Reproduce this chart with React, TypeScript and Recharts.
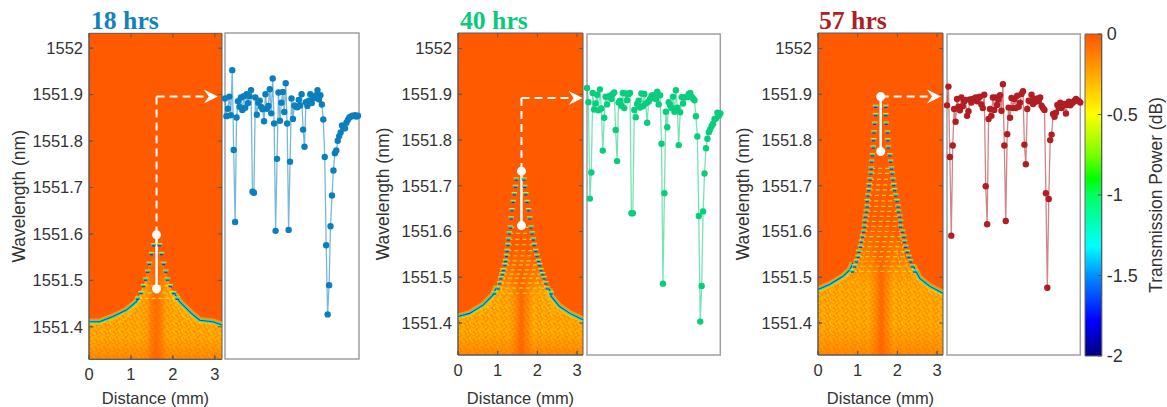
import React from "react";
import { ComposedChart, LineChart, Line, Area, Scatter, XAxis, YAxis, ReferenceArea, ReferenceLine, ReferenceDot } from "recharts";

const FONT = "'Liberation Sans', Arial, sans-serif";
const TEXT = "#333333";
const PAGE_H = 407;
const yTicks = [1551.4, 1551.5, 1551.6, 1551.7, 1551.8, 1551.9, 1552];
const xTicks = [0, 1, 2, 3];
const barTicks = [0, -0.5, -1, -1.5, -2];

// Dip spectra (wavelength in nm, one value per sample)
const spectrum18 = [1551.891,1551.853,1551.869,1551.895,1551.855,1551.952,1551.78,1551.625,1551.85,1551.885,1551.873,1551.893,1551.866,1551.896,1551.871,1551.9,1551.881,1551.896,1551.909,1551.69,1551.688,1551.893,1551.856,1551.882,1551.886,1551.873,1551.868,1551.842,1551.9,1551.869,1551.875,1551.911,1551.859,1551.934,1551.837,1551.606,1551.761,1551.904,1551.843,1551.882,1551.905,1551.862,1551.924,1551.837,1551.608,1551.755,1551.891,1551.847,1551.876,1551.873,1551.872,1551.888,1551.876,1551.9,1551.824,1551.787,1551.883,1551.875,1551.886,1551.9,1551.881,1551.891,1551.893,1551.898,1551.909,1551.889,1551.898,1551.878,1551.846,1551.765,1551.575,1551.426,1551.489,1551.616,1551.682,1551.736,1551.773,1551.779,1551.8,1551.81,1551.818,1551.833,1551.827,1551.827,1551.839,1551.845,1551.85,1551.852,1551.854,1551.853,1551.855,1551.852,1551.854];
const spectrum40 = [1551.916,1551.885,1551.674,1551.731,1551.905,1551.869,1551.882,1551.901,1551.867,1551.913,1551.871,1551.779,1551.851,1551.897,1551.88,1551.897,1551.899,1551.892,1551.903,1551.906,1551.824,1551.756,1551.884,1551.888,1551.877,1551.905,1551.872,1551.904,1551.889,1551.903,1551.905,1551.642,1551.642,1551.868,1551.852,1551.881,1551.888,1551.873,1551.904,1551.876,1551.903,1551.882,1551.84,1551.886,1551.892,1551.899,1551.9,1551.895,1551.892,1551.908,1551.88,1551.9,1551.794,1551.488,1551.686,1551.864,1551.83,1551.885,1551.879,1551.872,1551.897,1551.864,1551.911,1551.873,1551.791,1551.863,1551.896,1551.882,1551.895,1551.896,1551.896,1551.903,1551.905,1551.897,1551.893,1551.889,1551.854,1551.81,1551.636,1551.405,1551.483,1551.646,1551.729,1551.784,1551.805,1551.819,1551.826,1551.833,1551.838,1551.848,1551.849,1551.862,1551.855,1551.86];
const spectrum57 = [1551.878,1551.919,1551.765,1551.593,1551.79,1551.87,1551.842,1551.892,1551.875,1551.867,1551.895,1551.876,1551.887,1551.89,1551.855,1551.865,1551.891,1551.884,1551.892,1551.89,1551.895,1551.887,1551.895,1551.897,1551.88,1551.872,1551.901,1551.701,1551.618,1551.848,1551.87,1551.855,1551.895,1551.868,1551.895,1551.879,1551.891,1551.9,1551.866,1551.924,1551.79,1551.625,1551.815,1551.873,1551.851,1551.894,1551.872,1551.892,1551.872,1551.899,1551.875,1551.884,1551.903,1551.909,1551.792,1551.749,1551.87,1551.888,1551.887,1551.901,1551.881,1551.892,1551.886,1551.893,1551.888,1551.895,1551.877,1551.872,1551.868,1551.686,1551.479,1551.673,1551.802,1551.814,1551.859,1551.853,1551.862,1551.879,1551.872,1551.884,1551.872,1551.878,1551.881,1551.86,1551.879,1551.886,1551.878,1551.882,1551.885,1551.888,1551.892,1551.889,1551.887,1551.884];

// Textured band below the heat-map resonance
const bandD18 = [0,0.25,0.57,0.89,1.13,1.29,1.41,1.59,1.8,1.96,2.16,2.44,2.64,2.95,3.17];
const bandW18 = [1551.411,1551.411,1551.422,1551.436,1551.454,1551.487,1551.525,1551.56,1551.525,1551.482,1551.454,1551.429,1551.414,1551.411,1551.404];
const bandD40 = [0,0.29,0.63,0.88,1.05,1.18,1.58,1.93,2.06,2.18,2.35,2.56,2.82,3.15];
const bandW40 = [1551.414,1551.421,1551.439,1551.461,1551.498,1551.53,1551.56,1551.53,1551.515,1551.494,1551.458,1551.436,1551.421,1551.407];
const bandD57 = [0,0.29,0.63,0.88,1.05,1.18,1.58,1.93,2.06,2.23,2.56,2.82,3.15];
const bandW57 = [1551.473,1551.484,1551.502,1551.531,1551.565,1551.59,1551.62,1551.59,1551.57,1551.54,1551.498,1551.48,1551.465];

// Continuous resonance flanks
const flankLD18 = [0,0.25,0.57,0.89,1.13,1.2];
const flankLW18 = [1551.411,1551.411,1551.422,1551.436,1551.454,1551.465];
const flankRD18 = [2.05,2.16,2.44,2.64,2.95,3.17];
const flankRW18 = [1551.47,1551.454,1551.429,1551.414,1551.411,1551.404];
const flankLD40 = [0,0.29,0.63,0.88,0.98];
const flankLW40 = [1551.414,1551.421,1551.439,1551.461,1551.48];
const flankRD40 = [2.3,2.35,2.56,2.82,3.15];
const flankRW40 = [1551.475,1551.458,1551.436,1551.421,1551.407];
const flankLD57 = [0,0.29,0.63,0.8,0.88];
const flankLW57 = [1551.473,1551.484,1551.502,1551.516,1551.531];
const flankRD57 = [2.4,2.56,2.82,3.15];
const flankRW57 = [1551.525,1551.498,1551.48,1551.465];

// Fringe arcs inside the resonance
const arcsD18 = [[0.7,1.0,1.2,1.3],[2.45,2.2,2.0,1.9]];
const arcsW18 = [[1551.41,1551.43,1551.46,1551.49],[1551.41,1551.43,1551.46,1551.49]];
const arcsD40 = [[0.55,0.8,0.95,1.08],[0.8,1.02,1.18],[2.6,2.36,2.21,2.08],[2.36,2.14,1.98]];
const arcsW40 = [[1551.42,1551.44,1551.47,1551.52],[1551.425,1551.45,1551.5],[1551.42,1551.44,1551.47,1551.52],[1551.425,1551.45,1551.5]];
const arcsD57 = [[0.62,0.85,1.0,1.1],[0.85,1.05,1.18],[2.54,2.31,2.16,2.06],[2.31,2.11,1.98]];
const arcsW57 = [[1551.495,1551.515,1551.55,1551.6],[1551.487,1551.515,1551.56],[1551.495,1551.515,1551.55,1551.6],[1551.487,1551.515,1551.56]];

// Fringe rows: wavelength and left/right ends
const rungW18 = [1551.576,1551.557,1551.536,1551.519,1551.502,1551.488,1551.473,1551.461];
const rungL18 = [1.54,1.49,1.44,1.4,1.35,1.3,1.24,1.16];
const rungR18 = [1.68,1.73,1.78,1.83,1.87,1.94,2.02,2.1];
const rungW40 = [1551.714,1551.698,1551.682,1551.665,1551.647,1551.629,1551.609,1551.596,1551.583,1551.571,1551.558,1551.547,1551.536,1551.527,1551.516,1551.507,1551.498,1551.487,1551.476,1551.465];
const rungL40 = [1.47,1.45,1.42,1.39,1.36,1.34,1.32,1.29,1.27,1.26,1.24,1.22,1.2,1.18,1.15,1.12,1.08,1.05,1.01,0.92];
const rungR40 = [1.66,1.68,1.71,1.74,1.78,1.81,1.84,1.87,1.9,1.92,1.96,1.99,2.03,2.06,2.09,2.13,2.17,2.21,2.25,2.35];
const rungW57 = [1551.873,1551.855,1551.836,1551.817,1551.8,1551.784,1551.767,1551.753,1551.738,1551.727,1551.714,1551.702,1551.691,1551.679,1551.667,1551.655,1551.644,1551.633,1551.622,1551.611,1551.6,1551.589,1551.578,1551.567,1551.556,1551.545,1551.535,1551.524,1551.513];
const rungL57 = [1.45,1.45,1.43,1.41,1.4,1.39,1.37,1.35,1.34,1.33,1.31,1.29,1.28,1.26,1.24,1.24,1.22,1.2,1.18,1.17,1.15,1.12,1.09,1.07,1.03,1.01,0.97,0.92,0.87];
const rungR57 = [1.71,1.71,1.72,1.75,1.76,1.77,1.81,1.83,1.85,1.87,1.89,1.91,1.93,1.96,1.99,2.02,2.03,2.06,2.08,2.08,2.13,2.16,2.18,2.21,2.25,2.29,2.33,2.38,2.44];

// Colour bar stops (dB, colour)
const barStopValues = [0,-0.24,-0.5,-0.74,-0.9,-1,-1.32,-1.5,-1.78,-2];
const barStopColors = ["#ff5500","#ffa500","#ffff00","#80ff00","#00ff00","#00ff60","#00ffff","#0090ff","#0000ff","#00007f"];
const barRange = [-2, 0];

const zip = (ds: number[], ws: number[]) => ds.map((d, i) => ({ d, w: ws[i] }));

function Speckle({ id }: { id: string }) {
  const cells = [
    [0,0,"#ffb000"],[2,1,"#ffbc00"],[4,0,"#ff9000"],[6,2,"#ffc000"],[1,3,"#ff8c00"],[3,3,"#ffb400"],
    [5,4,"#ff9000"],[0,5,"#ffb400"],[2,5,"#ff8e00"],[4,6,"#ffb800"],[6,6,"#ff9200"],[7,0,"#ffac00"],[3,1,"#ff9400"],[7,4,"#ffb400"],
  ] as [number, number, string][];
  return (
    <pattern id={id} width={9} height={8} patternUnits="userSpaceOnUse">
      <rect width={9} height={8} fill="#ffa000" />
      {cells.map(([x, y, c], i) => <rect key={i} x={x} y={y} width={2} height={1.6} fill={c} />)}
    </pattern>
  );
}

const EdgeMark = (props: any) => {
  const { cx, cy } = props;
  if (cx == null || cy == null) return null;
  return (
    <g>
      <rect x={cx - 2.8} y={cy - 2} width={5.6} height={1.3} fill="#f0e020" opacity={0.9} />
      <rect x={cx - 2.4} y={cy - 1} width={4.8} height={1.7} fill="#18d8a0" />
      <rect x={cx - 1.6} y={cy + 0.2} width={3.2} height={1.2} fill="#1040d0" />
    </g>
  );
};

const ArrowHead = (props: any) => {
  const { cx, cy } = props;
  if (cx == null || cy == null) return null;
  return <polygon points={`${cx},${cy} ${cx - 14},${cy - 7} ${cx - 9},${cy} ${cx - 14},${cy + 7}`} fill="#ffffff" />;
};

type HeatProps = {
  id: string; plotLeft: number; plotRight: number; plotTop: number; plotBottom: number;
  xMax: number; yMin: number; yMax: number;
  band: { d: number; w: number }[]; flankL: { d: number; w: number }[]; flankR: { d: number; w: number }[];
  arcsD: number[][]; arcsW: number[][];
  rungW: number[]; rungL: number[]; rungR: number[]; dashFrom: number; fade: number;
  markD: number; markHi: number; markLo: number; arrowW: number; arrowD: number; labelOffset: number;
};

function HeatPanel(p: HeatProps) {
  const axisW = 85;
  const w = p.plotRight + 8 - (p.plotLeft - axisW);
  const edges = p.rungW.flatMap((rw, i) => [{ d: p.rungL[i], w: rw }, { d: p.rungR[i], w: rw }]);
  const axisStroke = "#5a5a5a";
  const tickProps = { fontFamily: FONT, fontSize: 16.5, fill: TEXT };
  const tl = 0.1, tw = 0.009;
  const centerTop = Math.max(...p.band.map((b) => b.w));
  return (
    <div style={{ position: "absolute", left: p.plotLeft - axisW, top: 0 }}>
      <ComposedChart width={w} height={PAGE_H} data={p.band} margin={{ top: p.plotTop, right: 8, bottom: 0, left: 0 }} style={{ overflow: "visible" }}>
        <defs>
          <Speckle id={`sp${p.id}`} />
          <linearGradient id={`cg${p.id}`} x1="0" x2="1" y1="0" y2="0">
            <stop offset="0.1" stopColor="#ff5a00" stopOpacity={0} />
            <stop offset="0.5" stopColor="#ff5a00" stopOpacity={0.8} />
            <stop offset="0.9" stopColor="#ff5a00" stopOpacity={0} />
          </linearGradient>
          <linearGradient id={`fg${p.id}`} x1="0" x2="0" y1="0" y2="1">
            <stop offset="0" stopColor="#ff5a00" stopOpacity={1} />
            <stop offset={p.fade} stopColor="#ff6400" stopOpacity={0.6} />
            <stop offset={p.fade + 0.2} stopColor="#ff9000" stopOpacity={0} />
            <stop offset="0.78" stopColor="#ff7800" stopOpacity={0} />
            <stop offset="1" stopColor="#ff6e00" stopOpacity={0.55} />
          </linearGradient>
        </defs>
        <XAxis type="number" dataKey="d" domain={[0, p.xMax]} ticks={xTicks} height={PAGE_H - p.plotBottom}
          tickSize={-4} tickMargin={13} tick={tickProps} stroke={axisStroke} interval={0}
          label={{ value: "Distance (mm)", position: "insideBottom", offset: 3, style: { fontFamily: FONT, fontSize: 16.5, fill: TEXT } }} />
        <YAxis type="number" dataKey="w" domain={[p.yMin, p.yMax]} ticks={yTicks} width={axisW}
          tickSize={-4} tickMargin={10} tick={tickProps} stroke={axisStroke} interval={0} tickFormatter={(v: number) => String(v)}
          label={{ value: "Wavelength (nm)", angle: -90, position: "insideLeft", offset: p.labelOffset, style: { fontFamily: FONT, fontSize: 17.5, fill: TEXT, textAnchor: "middle" } }} />
        <ReferenceArea x1={0} x2={p.xMax} y1={p.yMin} y2={p.yMax} fill="#ff5a00" fillOpacity={1} stroke="none" ifOverflow="visible" />
        <Area type="linear" dataKey="w" baseValue={p.yMin} stroke="none" fill={`url(#sp${p.id})`} fillOpacity={1} isAnimationActive={false} dot={false} activeDot={false} />
        <Area type="linear" dataKey="w" baseValue={p.yMin} stroke="none" fill={`url(#fg${p.id})`} fillOpacity={1} isAnimationActive={false} dot={false} activeDot={false} />
        <ReferenceArea x1={1.25} x2={1.95} y1={p.yMin} y2={centerTop - 0.03} fill={`url(#cg${p.id})`} fillOpacity={1} stroke="none" ifOverflow="visible" />
        {p.arcsD.map((ds, i) => (
          <Line key={`a${i}`} data={zip(ds, p.arcsW[i])} dataKey="w" type="monotone" stroke="#ffe000" strokeOpacity={0.55} strokeWidth={1.2} strokeDasharray="3 1.5" dot={false} activeDot={false} isAnimationActive={false} />
        ))}
        {[p.flankL, p.flankR].map((fl, i) => (
          <Line key={`h${i}`} data={fl} dataKey="w" type="linear" stroke="#ffd000" strokeOpacity={0.5} strokeWidth={6.5} dot={false} activeDot={false} isAnimationActive={false} />
        ))}
        {[p.flankL, p.flankR].map((fl, i) => (
          <Line key={`g${i}`} data={fl} dataKey="w" type="linear" stroke="#20e8a0" strokeWidth={3} dot={false} activeDot={false} isAnimationActive={false} />
        ))}
        {[p.flankL, p.flankR].map((fl, i) => (
          <Line key={`b${i}`} data={fl} dataKey="w" type="linear" stroke="#1050d8" strokeWidth={1.1} dot={false} activeDot={false} isAnimationActive={false} />
        ))}
        {p.rungW.map((rw, i) => (i < p.dashFrom ? null : (
          <ReferenceLine key={`r${i}`} segment={[{ x: p.rungL[i], y: rw }, { x: p.rungR[i], y: rw }]} stroke={i % 3 === 0 ? "#a8ee30" : "#ffdc10"} strokeOpacity={0.85} strokeWidth={1.2} strokeDasharray="4 3" ifOverflow="visible" />
        )))}
        <Scatter data={edges} dataKey="w" shape={EdgeMark} isAnimationActive={false} />
        <ReferenceLine segment={[{ x: p.markD, y: p.arrowW }, { x: p.markD, y: p.markHi }]} stroke="#ffffff" strokeWidth={2} strokeDasharray="8 5" ifOverflow="visible" />
        <ReferenceLine segment={[{ x: p.markD, y: p.arrowW }, { x: p.arrowD - 0.25, y: p.arrowW }]} stroke="#ffffff" strokeWidth={2} strokeDasharray="8 5" ifOverflow="visible" />
        <ReferenceLine segment={[{ x: p.markD, y: p.markHi }, { x: p.markD, y: p.markLo }]} stroke="#ffffff" strokeWidth={2.5} ifOverflow="visible" />
        <ReferenceDot x={p.markD} y={p.markHi} r={4.5} fill="#ffffff" stroke="none" ifOverflow="visible" />
        <ReferenceDot x={p.markD} y={p.markLo} r={4.5} fill="#ffffff" stroke="none" ifOverflow="visible" />
        <Scatter data={[{ d: p.arrowD, w: p.arrowW }]} dataKey="w" shape={ArrowHead} isAnimationActive={false} />
        {yTicks.flatMap((t) => [
          <ReferenceLine key={`yl${t}`} segment={[{ x: 0, y: t }, { x: tl, y: t }]} stroke={axisStroke} ifOverflow="visible" />,
          <ReferenceLine key={`yr${t}`} segment={[{ x: p.xMax - tl, y: t }, { x: p.xMax, y: t }]} stroke={axisStroke} ifOverflow="visible" />,
        ])}
        {xTicks.flatMap((t) => [
          <ReferenceLine key={`xb${t}`} segment={[{ x: t, y: p.yMin }, { x: t, y: p.yMin + tw }]} stroke={axisStroke} ifOverflow="visible" />,
          <ReferenceLine key={`xt${t}`} segment={[{ x: t, y: p.yMax - tw }, { x: t, y: p.yMax }]} stroke={axisStroke} ifOverflow="visible" />,
        ])}
        <ReferenceArea x1={0} x2={p.xMax} y1={p.yMin} y2={p.yMax} fill="none" stroke={axisStroke} strokeWidth={1} ifOverflow="visible" />
      </ComposedChart>
    </div>
  );
}

function SpectrumPanel({ values, color, left, right, top, bottom, yMin, yMax, xMax }: any) {
  const pad = 6;
  const rows = values.map((w: number, i: number) => ({ i, w }));
  return (
    <div style={{ position: "absolute", left: left - pad, top: top - pad }}>
      <LineChart width={right - left + 2 * pad} height={bottom - top + 2 * pad} data={rows} margin={{ top: pad, right: pad, bottom: pad, left: pad }}>
        <XAxis hide type="number" dataKey="i" domain={[0, xMax]} />
        <YAxis hide type="number" domain={[yMin, yMax]} />
        <ReferenceArea x1={0} x2={xMax} y1={yMin} y2={yMax} fill="#ffffff" fillOpacity={1} stroke="#a0a0a0" strokeWidth={1.5} ifOverflow="visible" />
        <Line dataKey="w" type="linear" stroke={color} strokeOpacity={0.55} strokeWidth={1.3} isAnimationActive={false} activeDot={false}
          dot={{ r: 3.2, fill: color, stroke: color, strokeWidth: 0, fillOpacity: 1 }} />
      </LineChart>
    </div>
  );
}

function ColorBar() {
  const top = 34, bottom = 356, left = 1085, right = 1101.7, cl = 1075, total = 92;
  const rows = barRange.map((v, i) => ({ x: i, v }));
  return (
    <div style={{ position: "absolute", left: cl, top: 0 }}>
      <ComposedChart width={total} height={PAGE_H} data={rows} margin={{ top, bottom: PAGE_H - bottom, left: left - cl, right: 0 }}>
        <defs>
          <linearGradient id="jetBar" x1="0" x2="0" y1="0" y2="1">
            {barStopValues.map((v, i) => <stop key={i} offset={-v / 2} stopColor={barStopColors[i]} />)}
          </linearGradient>
        </defs>
        <XAxis hide type="number" dataKey="x" domain={[0, 1]} />
        <YAxis orientation="right" type="number" dataKey="v" domain={[-2, 0]} ticks={barTicks} width={total - (right - cl)} interval={0}
          tickSize={-4} tickMargin={9} tick={{ fontFamily: FONT, fontSize: 18, fill: TEXT }} stroke="#555555"
          tickFormatter={(v: number) => String(v)}
          label={{ value: "Transmission Power (dB)", angle: -90, position: "insideRight", offset: 0, dx: -11, style: { fontFamily: FONT, fontSize: 17.5, fill: TEXT, textAnchor: "middle" } }} />
        <Line dataKey="v" stroke="none" dot={false} activeDot={false} isAnimationActive={false} />
        <ReferenceArea x1={0} x2={1} y1={-2} y2={0} fill="url(#jetBar)" fillOpacity={1} stroke="#666666" ifOverflow="visible" />
      </ComposedChart>
    </div>
  );
}

function Title({ text, color, left }: { text: string; color: string; left: number }) {
  return (
    <div style={{ position: "absolute", left, top: 7, fontFamily: "'Liberation Serif', serif", fontWeight: 700, fontSize: 25.7, lineHeight: "28px", color }}>{text}</div>
  );
}

export default function App() {
  return (
    <div style={{ position: "absolute", left: 0, top: 0, width: 1167, height: PAGE_H, overflow: "hidden", background: "#ffffff" }}>
      <HeatPanel id="a" plotLeft={89.3} plotRight={222.3} plotTop={33.3} plotBottom={359.3} xMax={3.17} yMin={1551.33} yMax={1552.032}
        band={zip(bandD18, bandW18)} flankL={zip(flankLD18, flankLW18)} flankR={zip(flankRD18, flankRW18)} arcsD={arcsD18} arcsW={arcsW18} dashFrom={5} fade={0.2}
        rungW={rungW18} rungL={rungL18} rungR={rungR18} markD={1.61} markHi={1551.598} markLo={1551.482} arrowW={1551.896} arrowD={3.07} labelOffset={15} />
      <HeatPanel id="b" plotLeft={458.3} plotRight={583.3} plotTop={33} plotBottom={355} xMax={3.15} yMin={1551.33} yMax={1552.034}
        band={zip(bandD40, bandW40)} flankL={zip(flankLD40, flankLW40)} flankR={zip(flankRD40, flankRW40)} arcsD={arcsD40} arcsW={arcsW40} dashFrom={6} fade={0.3}
        rungW={rungW40} rungL={rungL40} rungR={rungR40} markD={1.6} markHi={1551.732} markLo={1551.613} arrowW={1551.892} arrowD={3.14} labelOffset={10} />
      <HeatPanel id="c" plotLeft={818.3} plotRight={943.3} plotTop={33} plotBottom={355} xMax={3.15} yMin={1551.33} yMax={1552.034}
        band={zip(bandD57, bandW57)} flankL={zip(flankLD57, flankLW57)} flankR={zip(flankRD57, flankRW57)} arcsD={arcsD57} arcsW={arcsW57} dashFrom={8} fade={0.3}
        rungW={rungW57} rungL={rungL57} rungR={rungR57} markD={1.58} markHi={1551.895} markLo={1551.775} arrowW={1551.895} arrowD={3.1} labelOffset={10} />
      <SpectrumPanel values={spectrum18} color="#0a7fbd" left={225.3} right={359.3} top={33.3} bottom={359.3} yMin={1551.33} yMax={1552.032} xMax={92.7} />
      <SpectrumPanel values={spectrum40} color="#08cd7d" left={586.7} right={720} top={34} bottom={355} yMin={1551.332} yMax={1552.034} xMax={spectrum40.length - 1} />
      <SpectrumPanel values={spectrum57} color="#b01e22" left={946.7} right={1080} top={34} bottom={355} yMin={1551.332} yMax={1552.034} xMax={spectrum57.length - 1} />
      <ColorBar />
      <Title text="18 hrs" color="#1480bc" left={91} />
      <Title text="40 hrs" color="#0cc97e" left={460} />
      <Title text="57 hrs" color="#b01e22" left={819} />
    </div>
  );
}
